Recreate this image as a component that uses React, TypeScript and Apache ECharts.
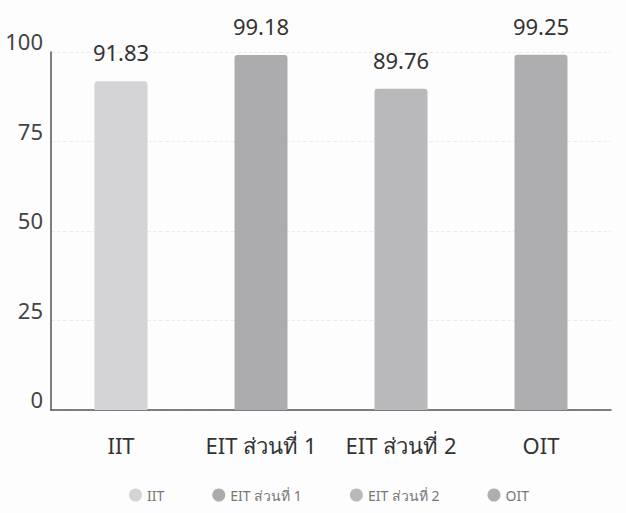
import React, { useEffect, useRef } from "react";
import * as echarts from "echarts";

const categories = ["IIT", "EIT ส่วนที่ 1", "EIT ส่วนที่ 2", "OIT"];
const values = [91.83, 99.18, 89.76, 99.25];
const colors = ["#d4d4d6", "#acacae", "#b9b9bb", "#aeaeb0"];
const yTicks = [0, 25, 50, 75, 100];

export default function App() {
  const ref = useRef<HTMLDivElement>(null);
  useEffect(() => {
    if (!ref.current) return;
    const chart = echarts.init(ref.current, undefined, { renderer: "svg" });
    const font = "'Noto Sans', 'Open Sans', sans-serif";
    const series = categories.map((name, i) => ({
      name,
      type: "bar",
      stack: "all",
      barWidth: 53,
      itemStyle: { color: colors[i], borderRadius: [3, 3, 0, 0] },
      label: {
        show: true,
        position: "top",
        distance: 18,
        fontSize: 22,
        color: "#333",
        fontFamily: font,
        formatter: (p: any) => (p.value == null ? "" : p.value.toFixed(2)),
      },
      data: categories.map((_, j) => (j === i ? values[i] : null)),
    }));
    chart.setOption({
      animation: false,
      backgroundColor: "#fdfdfd",
      textStyle: { fontFamily: font },
      grid: { left: 51, right: 15, top: 52, bottom: 103 },
      legend: {
        bottom: 6,
        left: 124,
        icon: "circle",
        itemWidth: 13,
        itemHeight: 13,
        itemGap: 48,
        textStyle: { fontSize: 14, color: "#777", fontFamily: font },
        data: categories,
      },
      xAxis: {
        type: "category",
        data: categories,
        axisLine: { lineStyle: { color: "#555", width: 1.5 } },
        axisTick: { show: false },
        axisLabel: {
          interval: 0,
          fontSize: 22,
          color: "#333",
          margin: 24,
          fontFamily: font,
          hideOverlap: false,
        },
      },
      yAxis: {
        type: "value",
        min: yTicks[0],
        max: yTicks[yTicks.length - 1],
        interval: 25,
        axisLine: { show: true, lineStyle: { color: "#555", width: 1.5 } },
        axisTick: { show: false },
        splitLine: { show: true, lineStyle: { color: "#ececec", type: "dashed" } },
        axisLabel: {
          fontSize: 22,
          color: "#444",
          margin: 8,
          verticalAlign: "bottom",
          fontFamily: font,
        },
      },
      series,
    });
    return () => chart.dispose();
  }, []);
  return (
    <div
      ref={ref}
      style={{ position: "fixed", left: 0, top: 0, width: 626, height: 513 }}
    />
  );
}
